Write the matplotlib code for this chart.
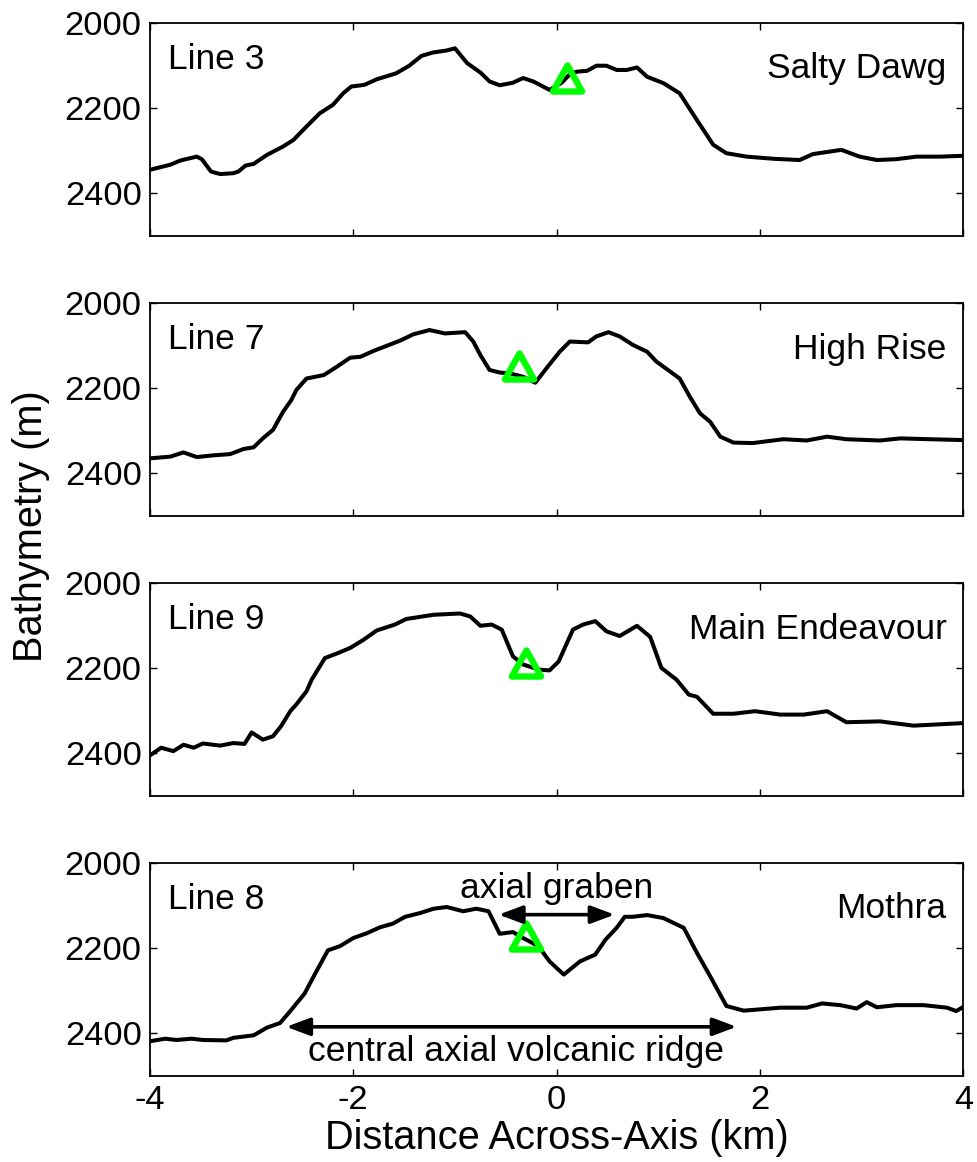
import matplotlib
matplotlib.use("Agg")
import matplotlib.pyplot as plt
from matplotlib.path import Path

# ── Across-axis bathymetry profiles (distance in km, depth in m) ──────────────
LINE3_X = [-4.00, -3.80, -3.70, -3.54, -3.49, -3.40, -3.31, -3.18, -3.13, -3.06,
           -2.98, -2.85, -2.69, -2.59, -2.46, -2.33, -2.20, -2.10, -2.02, -1.89,
           -1.77, -1.58, -1.45, -1.33, -1.22, -1.08, -1.00, -0.88, -0.75, -0.66,
           -0.56, -0.43, -0.33, -0.23, -0.07, 0.05, 0.13, 0.20, 0.30, 0.39,
           0.49, 0.59, 0.69, 0.79, 0.89, 1.05, 1.21, 1.38, 1.54, 1.67,
           1.87, 2.13, 2.39, 2.52, 2.69, 2.80, 2.98, 3.15, 3.34, 3.54,
           3.77, 4.00]
LINE3_Z = [2345, 2333, 2323, 2314, 2320, 2349, 2355, 2353, 2349, 2335,
           2331, 2310, 2290, 2275, 2243, 2212, 2192, 2165, 2149, 2145,
           2132, 2118, 2100, 2077, 2069, 2064, 2059, 2094, 2116, 2137,
           2146, 2140, 2129, 2137, 2157, 2140, 2120, 2114, 2112, 2100,
           2100, 2110, 2110, 2104, 2126, 2141, 2165, 2228, 2286, 2306,
           2314, 2319, 2322, 2308, 2302, 2298, 2314, 2322, 2320, 2314,
           2314, 2312]

LINE7_X = [-4.00, -3.80, -3.67, -3.54, -3.38, -3.21, -3.08, -2.98, -2.89, -2.79,
           -2.69, -2.61, -2.56, -2.46, -2.29, -2.16, -2.03, -1.93, -1.80, -1.54,
           -1.41, -1.25, -1.10, -0.90, -0.82, -0.75, -0.66, -0.56, -0.46, -0.33,
           -0.21, -0.10, 0.03, 0.13, 0.31, 0.39, 0.51, 0.62, 0.75, 0.89,
           0.98, 1.21, 1.31, 1.41, 1.51, 1.61, 1.74, 1.93, 2.23, 2.46,
           2.66, 2.85, 3.18, 3.38, 3.67, 4.00]
LINE7_Z = [2365, 2361, 2351, 2362, 2358, 2355, 2343, 2339, 2318, 2298,
           2255, 2228, 2204, 2177, 2169, 2149, 2128, 2126, 2112, 2088,
           2073, 2063, 2071, 2068, 2090, 2122, 2157, 2163, 2165, 2173,
           2187, 2153, 2114, 2090, 2092, 2078, 2068, 2078, 2098, 2114,
           2137, 2177, 2220, 2259, 2279, 2314, 2328, 2329, 2320, 2323,
           2314, 2320, 2323, 2318, 2320, 2322]

LINE9_X = [-4.00, -3.89, -3.77, -3.67, -3.57, -3.48, -3.31, -3.18, -3.07, -3.00,
           -2.89, -2.79, -2.71, -2.62, -2.56, -2.46, -2.41, -2.28, -2.16, -2.03,
           -1.90, -1.77, -1.59, -1.48, -1.21, -0.95, -0.85, -0.75, -0.64, -0.54,
           -0.43, -0.33, -0.18, -0.07, 0.02, 0.16, 0.26, 0.38, 0.49, 0.62,
           0.79, 0.92, 1.03, 1.18, 1.30, 1.38, 1.54, 1.74, 1.95, 2.20,
           2.43, 2.66, 2.85, 3.18, 3.51, 4.00]
LINE9_Z = [2405, 2387, 2395, 2380, 2387, 2377, 2382, 2376, 2378, 2351,
           2368, 2360, 2336, 2301, 2285, 2254, 2227, 2176, 2165, 2152,
           2133, 2111, 2097, 2084, 2074, 2071, 2078, 2100, 2097, 2109,
           2172, 2191, 2203, 2205, 2184, 2109, 2097, 2089, 2113, 2124,
           2100, 2126, 2199, 2227, 2262, 2267, 2307, 2307, 2301, 2309,
           2309, 2301, 2327, 2325, 2335, 2329]

LINE8_X = [-4.00, -3.85, -3.74, -3.59, -3.48, -3.25, -3.18, -2.98, -2.85, -2.72,
           -2.62, -2.48, -2.38, -2.25, -2.13, -2.00, -1.87, -1.74, -1.61, -1.49,
           -1.34, -1.21, -1.08, -0.92, -0.79, -0.67, -0.56, -0.43, -0.33, -0.18,
           -0.07, 0.07, 0.23, 0.38, 0.48, 0.59, 0.67, 0.75, 0.89, 1.05,
           1.25, 1.38, 1.51, 1.67, 1.84, 2.20, 2.46, 2.61, 2.79, 2.95,
           3.05, 3.15, 3.34, 3.61, 3.84, 3.93, 4.00]
LINE8_Z = [2419, 2413, 2416, 2413, 2416, 2417, 2411, 2405, 2387, 2376,
           2348, 2307, 2262, 2205, 2195, 2176, 2165, 2151, 2142, 2126,
           2117, 2107, 2103, 2113, 2107, 2113, 2166, 2162, 2176, 2195,
           2231, 2262, 2231, 2215, 2180, 2152, 2126, 2126, 2122, 2129,
           2152, 2211, 2266, 2336, 2347, 2340, 2340, 2330, 2334, 2342,
           2327, 2339, 2334, 2334, 2340, 2348, 2338]

LINE_NAMES = ["Line 3", "Line 7", "Line 9", "Line 8"]
VENT_NAMES = ["Salty Dawg", "High Rise", "Main Endeavour", "Mothra"]
VENT_X     = [0.10, -0.37, -0.30, -0.30]
VENT_Z     = [2130, 2148, 2187, 2172]

PROFILES_X = [LINE3_X, LINE7_X, LINE9_X, LINE8_X]
PROFILES_Z = [LINE3_Z, LINE7_Z, LINE9_Z, LINE8_Z]

X_TICKS = [-4, -2, 0, 2, 4]
Z_TICKS = [2000, 2200, 2400]

# annotation spans on the Mothra profile
GRABEN_SPAN = (-0.57, 0.57, 2121)
RIDGE_SPAN  = (-2.66, 1.77, 2385)

# ── Style ──────────────────────────────────────────────────────────────────────
plt.rcParams.update({
    "font.family":       ["Liberation Sans", "DejaVu Sans"],
    "axes.linewidth":    1.3,
    "xtick.direction":   "in",
    "ytick.direction":   "in",
    "xtick.top":         True,
    "ytick.right":       True,
    "xtick.major.size":  5,
    "ytick.major.size":  5,
    "xtick.major.width": 1.0,
    "ytick.major.width": 1.0,
    "xtick.labelsize":   24.8,
    "ytick.labelsize":   24.8,
    "xtick.major.pad":   7,
    "ytick.major.pad":   6,
})

# open green triangle, a touch wider than it is tall
VENT_MARKER = Path([(0, 1), (-1.12, -1), (1.12, -1), (0, 1)],
                   [Path.MOVETO, Path.LINETO, Path.LINETO, Path.CLOSEPOLY])

fig = plt.figure(figsize=(9.77, 11.62), dpi=100)

LEFT, WIDTH, HEIGHT = 0.1535, 0.8325, 0.1828
BOTTOMS = [0.7972, 0.5562, 0.3152, 0.0743]

axes = []
for i in range(4):
    ax = fig.add_axes([LEFT, BOTTOMS[i], WIDTH, HEIGHT])
    ax.plot(PROFILES_X[i], PROFILES_Z[i], color="black", lw=2.9,
            solid_joinstyle="round", solid_capstyle="round", zorder=2)
    ax.plot(VENT_X[i], VENT_Z[i], marker=VENT_MARKER, ms=21, mfc="none",
            mec=(0, 1, 0), mew=4.6, ls="none", zorder=3)

    ax.set_xlim(-4, 4)
    ax.set_ylim(2500, 2000)
    ax.set_xticks(X_TICKS)
    ax.set_yticks(Z_TICKS)
    if i < 3:
        ax.set_xticklabels([])
    else:
        ax.set_xticklabels([f"{t:d}" for t in X_TICKS])

    ax.text(-3.82, 2108, LINE_NAMES[i], fontsize=25.5, ha="left", va="baseline")
    ax.text(3.835, 2130, VENT_NAMES[i], fontsize=25.5, ha="right", va="baseline")
    axes.append(ax)

# ── Mothra annotations ─────────────────────────────────────────────────────────
ax = axes[3]
arrow_kw = dict(arrowstyle="<|-|>,head_length=0.8,head_width=0.3",
                color="black", lw=2.6, mutation_scale=18,
                shrinkA=0, shrinkB=0)
g0, g1, gz = GRABEN_SPAN
ax.annotate("", xy=(g0, gz), xytext=(g1, gz), arrowprops=arrow_kw)
ax.text(0.0, 2082, "axial graben", fontsize=25.5, ha="center", va="baseline")

r0, r1, rz = RIDGE_SPAN
ax.annotate("", xy=(r0, rz), xytext=(r1, rz), arrowprops=arrow_kw)
ax.text(-0.40, 2466, "central axial volcanic ridge", fontsize=25.5,
        ha="center", va="baseline")

ax.set_xlabel("Distance Across-Axis (km)", fontsize=28.6, labelpad=2)
fig.text(0.032, 0.5473, "Bathymetry (m)", fontsize=28.6, rotation=90,
         ha="center", va="center")

fig.savefig("out.png", dpi=100, facecolor="white")
